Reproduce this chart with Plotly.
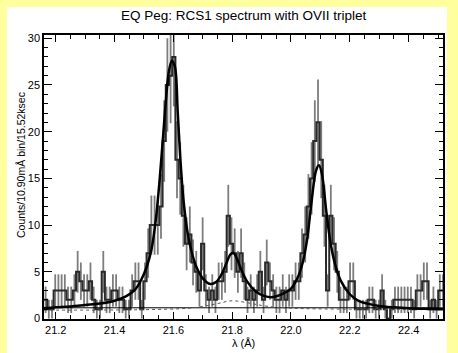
import numpy as np
import plotly.graph_objects as go

# ---- data ----
bin_start = 21.16          # Å, left edge of first bin
bin_width = 0.0109         # Å (10.90 mÅ)
counts = [2, 1, 1, 3, 3, 3, 3, 2, 2, 3,
          5, 4, 3, 3, 4, 2, 1, 1, 5, 2,
          2, 3, 3, 2, 2, 1, 1, 3, 4, 4,
          1, 4, 7, 10, 10, 10, 12, 19, 25, 26,
          28, 17, 15, 11, 8, 9, 6, 5, 3, 8,
          3, 2, 3, 2, 4, 4, 5, 11, 8, 7,
          5, 7, 4, 2, 3, 2, 3, 5, 2, 6,
          4, 3, 2, 2, 3, 2, 3, 3, 4, 4,
          7, 9, 12, 15, 19, 21, 17, 11, 3, 11,
          8, 5, 2, 2, 2, 4, 4, 1, 1, 1,
          1, 2, 2, 1, 1, 3, 1, 0, 1, 2,
          2, 2, 2, 2, 2, 1, 3, 3, 4, 4,
          1, 2, 1, 3, 3]

model_wl = [21.16, 21.20, 21.25, 21.30, 21.35, 21.40, 21.44, 21.47, 21.49, 21.51,
            21.525, 21.54, 21.555, 21.565, 21.575, 21.585, 21.595, 21.605, 21.615, 21.625,
            21.635, 21.65, 21.665, 21.68, 21.70, 21.725, 21.745, 21.765, 21.78, 21.795,
            21.805, 21.815, 21.83, 21.85, 21.88, 21.91, 21.94, 21.97, 22.0, 22.02,
            22.04, 22.055, 22.07, 22.085, 22.095, 22.105, 22.12, 22.135, 22.15, 22.17,
            22.2, 22.23, 22.26, 22.3, 22.35, 22.4, 22.45, 22.517]
model_val = [1.1, 1.2, 1.3, 1.45, 1.6, 1.9, 2.4, 3.1, 4.1, 5.6,
             7.3, 10.5, 15.5, 19.5, 23.5, 26.5, 27.6, 27.0, 22.0, 16.5,
             12.5, 8.9, 6.8, 5.4, 4.3, 3.7, 3.9, 4.8, 5.9, 6.9,
             7.0, 6.5, 5.3, 4.0, 2.9, 2.4, 2.3, 2.6, 3.2, 4.2,
             6.0, 8.5, 12.5, 15.8, 16.4, 15.5, 11.5, 8.0, 5.8, 4.0,
             2.6, 1.9, 1.6, 1.35, 1.2, 1.1, 1.05, 1.0]

cont_wl = [21.16, 22.517]
cont_val = [1.15, 1.15]

dot_wl = [21.16, 21.5, 21.65, 21.7, 21.75, 21.8, 21.85, 21.9, 21.95, 22.0, 22.2, 22.517]
dot_val = [0.9, 0.95, 1.1, 1.3, 1.6, 1.9, 1.7, 1.4, 1.2, 1.1, 1.0, 0.95]

x_ticks = [21.2, 21.4, 21.6, 21.8, 22.0, 22.2, 22.4]
x_ticktext = ["21.2", "21.4", "21.6", "21.8", "22.0", "22.2", "22.4"]
y_ticks = [0, 5, 10, 15, 20, 25, 30]

title = "EQ Peg: RCS1 spectrum with OVII triplet"
ytitle = "Counts/10.90mÅ bin/15.52ksec"
xtitle = "λ (Å)"

# ---- derived ----
n = len(counts)
edges = [bin_start + bin_width * i for i in range(n + 1)]
centers = [bin_start + bin_width * (i + 0.5) for i in range(n)]
errs = np.sqrt(np.array(counts, dtype=float))

W, H = 458, 353
L, R, T, B = 44, 15, 35, 34
pw, ph = W - L - R, H - T - B

def px2paper_x(px):
    return (px - L) / pw

def px2paper_y(py):
    return (H - B - py) / ph

fig = go.Figure()

fig.add_trace(go.Scatter(
    x=centers, y=counts, mode="markers",
    marker=dict(size=1, color="rgba(0,0,0,0)"),
    error_y=dict(type="data", array=errs, color="#7d7d7d", thickness=1.8, width=0),
    hoverinfo="skip", showlegend=False))

fig.add_trace(go.Scatter(
    x=edges, y=counts + [counts[-1]], mode="lines", line_shape="hv",
    line=dict(color="#2a2a2a", width=2), showlegend=False))

fig.add_trace(go.Scatter(
    x=cont_wl, y=cont_val, mode="lines",
    line=dict(color="black", width=1), showlegend=False))

fig.add_trace(go.Scatter(
    x=dot_wl, y=dot_val, mode="lines", line_shape="spline",
    line=dict(color="#555", width=1, dash="dot"), showlegend=False))

fig.add_trace(go.Scatter(
    x=model_wl, y=model_val, mode="lines", line_shape="spline",
    line=dict(color="black", width=2.5), showlegend=False))

axis_common = dict(
    showgrid=False, zeroline=False, showline=True, linecolor="black", linewidth=1.5,
    mirror="allticks", ticks="inside", tickcolor="black", tickwidth=1.2,
    tickfont=dict(family="Liberation Sans", size=11, color="black"),
)

fig.update_xaxes(range=[21.16, 22.517], tickvals=x_ticks, ticktext=x_ticktext, ticklen=7,
                 minor=dict(dtick=0.05, tick0=21.2, ticks="inside", ticklen=4,
                            tickcolor="black", tickwidth=1.2),
                 **axis_common)
fig.update_yaxes(range=[-0.05, 30.35], tickvals=y_ticks, ticklen=8,
                 minor=dict(dtick=1, tick0=0, ticks="inside", ticklen=4,
                            tickcolor="black", tickwidth=1.2),
                 **axis_common)

fig.update_layout(
    width=W, height=H,
    margin=dict(l=L, r=R, t=T, b=B),
    paper_bgcolor="#FFFF9E", plot_bgcolor="white",
    shapes=[
        dict(type="rect", xref="paper", yref="paper", layer="below",
             x0=px2paper_x(7), x1=px2paper_x(447), y0=px2paper_y(353), y1=px2paper_y(7),
             fillcolor="white", line=dict(width=0)),
    ],
    annotations=[
        dict(text=title, xref="paper", yref="paper", x=px2paper_x(244), y=px2paper_y(16),
             xanchor="center", yanchor="middle", showarrow=False,
             font=dict(family="Liberation Sans", size=13.5, color="black")),
        dict(text=ytitle, xref="paper", yref="paper", x=px2paper_x(21), y=px2paper_y(165),
             xanchor="center", yanchor="middle", showarrow=False, textangle=-90,
             font=dict(family="Liberation Sans", size=10.5, color="black")),
        dict(text=xtitle, xref="paper", yref="paper", x=px2paper_x(243), y=px2paper_y(343),
             xanchor="center", yanchor="middle", showarrow=False,
             font=dict(family="Liberation Sans", size=11, color="black")),
    ],
)

fig.write_html("out.html")
